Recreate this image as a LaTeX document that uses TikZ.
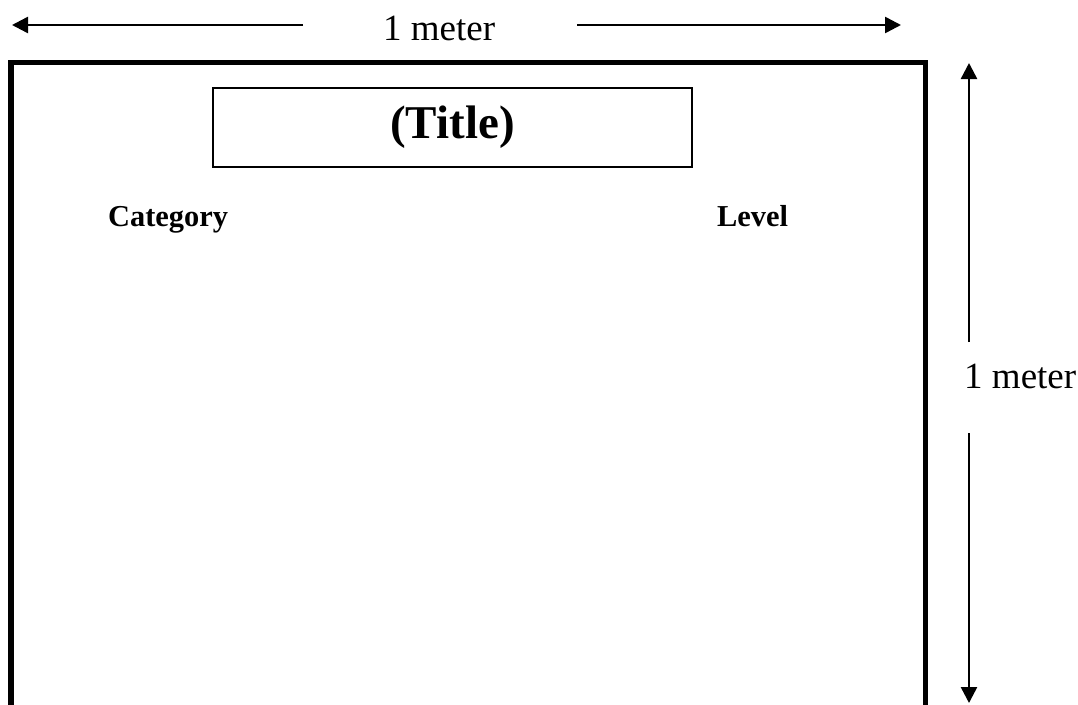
\documentclass[tikz,border=0pt]{standalone}
\usepackage{fontspec}
\setmainfont{Liberation Serif}
\usetikzlibrary{arrows.meta}
\begin{document}
\begin{tikzpicture}[x=1pt,y=-1pt,
  dim/.style={line width=2.5pt,-{Triangle[length=16pt,width=16pt]}},
  lbl/.style={inner sep=0pt,anchor=base west,font=\fontsize{37}{40}\selectfont},
  head/.style={inner sep=0pt,anchor=base west,font=\fontsize{30.4}{33}\selectfont\bfseries},
  titlebox/.style={draw,line width=1.5pt,minimum width=479pt,minimum height=79pt,inner sep=0pt,font=\fontsize{47}{50}\selectfont\bfseries},
  frame/.style={line width=5.5pt}]
\useasboundingbox (0,0) rectangle (1078,704);
\clip (0,0) rectangle (1078,704);
\fill[white] (0,0) rectangle (1078,704);
% outer board
\draw[frame] (11,740) -- (11,62.5) -- (925.5,62.5) -- (925.5,740);
% title
\node[titlebox] (title) at (452.5,127.5) {(Title)};
\node[head] (cat) at (108,226) {Category};
\node[head] (lev) at (717,226) {Level};
% width dimension
\node[lbl] (wlbl) at (383,40) {1 meter};
\coordinate (wl0) at (303,25);
\coordinate (wl1) at (12,25);
\coordinate (wr0) at (577,25);
\coordinate (wr1) at (901,25);
\draw[dim] (wl0) -- (wl1);
\draw[dim] (wr0) -- (wr1);
% height dimension
\node[lbl] (hlbl) at (964,388) {1 meter};
\coordinate (hu0) at (969,342);
\coordinate (hu1) at (969,63);
\coordinate (hd0) at (969,433);
\coordinate (hd1) at (969,703);
\draw[dim] (hu0) -- (hu1);
\draw[dim] (hd0) -- (hd1);
\end{tikzpicture}
\end{document}
